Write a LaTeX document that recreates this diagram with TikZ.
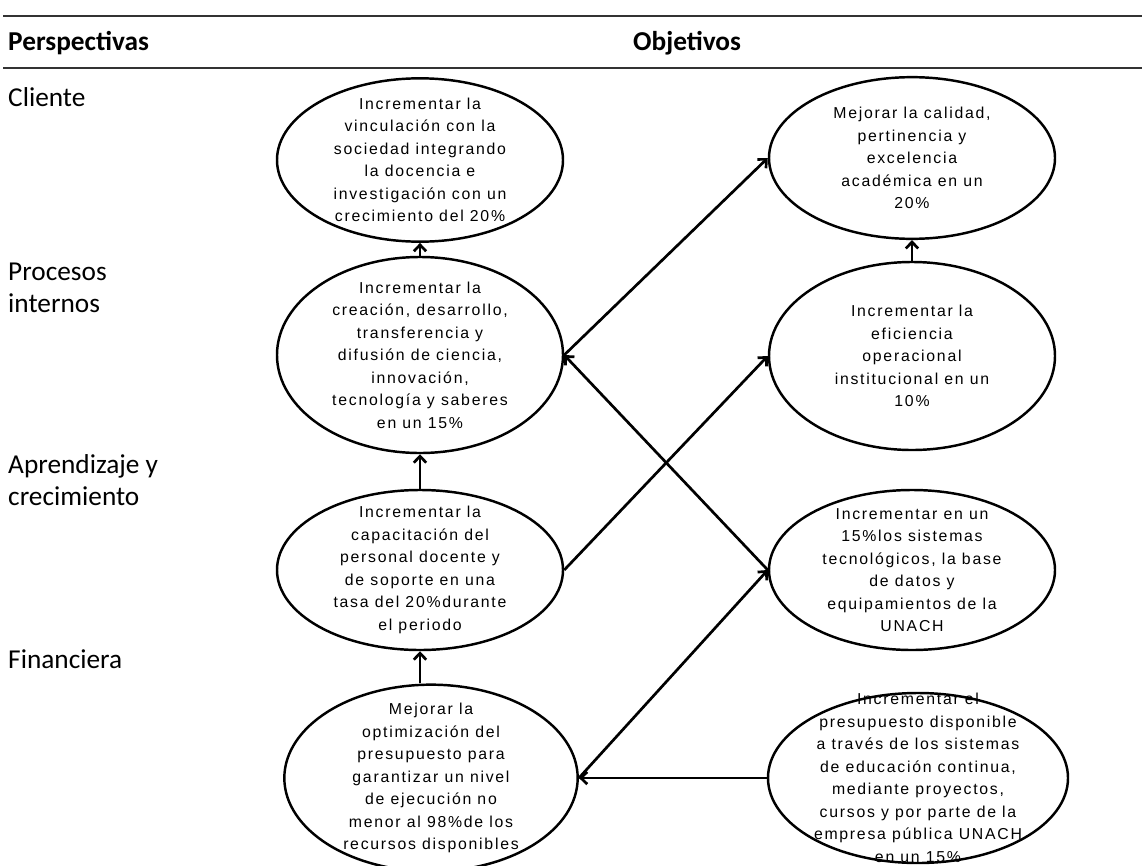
\documentclass[tikz,border=0pt]{standalone}
\usepackage{fontspec}
\setmainfont{Carlito}
\newfontfamily\ovalfont[LetterSpace=11]{Liberation Sans}
\usepackage{tikz}
\usetikzlibrary{arrows.meta,positioning,shapes.geometric}

\begin{document}
\begin{tikzpicture}[
  x=0.03cm,y=-0.03cm,
  every node/.style={align=center},
  rule/.style={line width=1pt,draw=black!80},
  head/.style={font=\fontsize{23.3}{27}\selectfont\bfseries,anchor=base west,inner sep=0pt},
  persp/.style={font=\fontsize{23.3}{26.5}\selectfont,anchor=base west,align=left,inner sep=0pt},
  objetivo/.style={draw,line width=2.1pt,ellipse,inner xsep=0pt,inner ysep=-3cm,
                   minimum width=8.58cm,minimum height=4.9cm,
                   font=\ovalfont\fontsize{13.5}{19.2}\selectfont},
  arr/.style={-{Straight Barb[length=5.5pt,width=10.5pt]},line width=2.3pt}
]
\useasboundingbox (0,0) rectangle (1142,866);

\draw[rule] (3,16) -- (1142,16);
\draw[rule] (3,68) -- (1142,68);

\node[head] (hpersp) at (8,50) {Perspectivas};
\node[head] (hobj)   at (633,50) {Objetivos};

\node[persp] (lcli)  at (8,106) {Cliente};
\node[persp] (lproc) at (8,312) {Procesos\\internos};
\node[persp] (lapr)  at (8,505) {Aprendizaje y\\crecimiento};
\node[persp] (lfin)  at (8,668) {Financiera};

\node[objetivo] (cli)  at (420,160) {Incrementar la\\ vinculación con la\\ sociedad integrando\\ la docencia e\\
  investigación con un\\ crecimiento del 20\%};
\node[objetivo,minimum height=5.88cm] (proc) at (420,355) {Incrementar la\\ creación, desarrollo,\\ transferencia y\\
  difusión de ciencia,\\ innovación,\\ tecnología y saberes\\ en un 15\%};
\node[objetivo,minimum height=4.8cm] (cap)  at (420,570) {Incrementar la\\ capacitación del\\ personal docente y\\
  de soporte en una\\ tasa del 20\%durante\\ el periodo};
\node[objetivo,minimum width=8.8cm,minimum height=5.6cm] (fin) at (431,778) {Mejorar la\\ optimización del\\
  presupuesto para\\ garantizar un nivel\\ de ejecución no\\ menor al 98\%de los\\ recursos disponibles};

\node[objetivo,minimum height=4.85cm] (cal)  at (912,158) {Mejorar la calidad,\\ pertinencia y\\ excelencia\\
  académica en un\\ 20\%};
\node[objetivo,minimum height=5.64cm] (efi)  at (912,356) {Incrementar la\\ eficiencia\\ operacional\\
  institucional en un\\ 10\%};
\node[objetivo,minimum height=4.8cm] (tec)  at (912,570) {Incrementar en un\\ 15\%los sistemas\\
  tecnológicos, la base\\ de datos y\\ equipamientos de la\\ UNACH};
\node[objetivo,minimum width=9.0cm,minimum height=5.1cm] (pres) at (918,778) {Incrementar el\\
  presupuesto disponible\\ a través de los sistemas\\ de educación continua,\\ mediante proyectos,\\
  cursos y por parte de la\\ empresa pública UNACH\\ en un 15\%};

\draw[arr] (proc.north) -- (cli.south);
\draw[arr] (cap.north) -- (proc.south);
\draw[arr] (fin.north -| cap.south) -- (cap.south);
\draw[arr] (efi.north) -- (cal.south);
\draw[arr] (proc.east) -- (cal.west);
\draw[arr] (tec.west) -- (proc.east);
\draw[arr] (cap.east) -- (efi.west);
\draw[arr] (fin.east) -- (tec.west);
\draw[arr] (pres.west) -- (fin.east);
\end{tikzpicture}
\end{document}
